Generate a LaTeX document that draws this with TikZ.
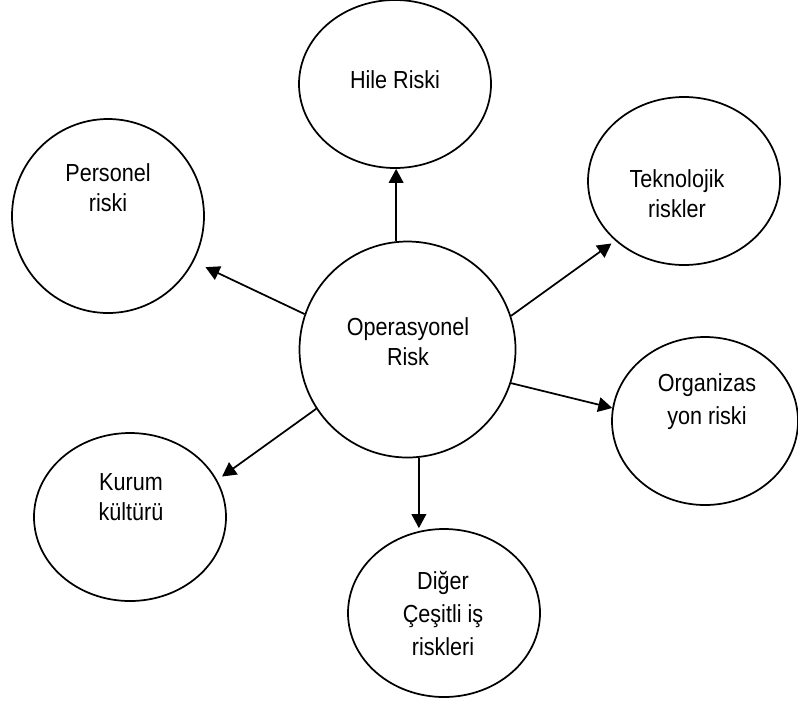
\documentclass[tikz,border=0pt]{standalone}
\usepackage{fontspec}
\setmainfont[FakeStretch=0.875]{Liberation Sans}
\usetikzlibrary{shapes.geometric,arrows.meta,calc}

\begin{document}
\begin{tikzpicture}[x=0.75pt,y=-0.75pt,
  oval/.style={draw, ellipse, line width=1.3pt, inner sep=0pt,
               minimum width=144pt, minimum height=126pt},
  lbl/.style={align=center, inner sep=0pt,
              font=\fontsize{18.5}{22.5}\selectfont},
  lblwide/.style={lbl, font=\fontsize{18.5}{24.75}\selectfont},
  arr/.style={line width=1.3pt, -{Triangle[length=10.5pt,width=11pt]}}]

\useasboundingbox (0,0) rectangle (798,704);

% central circle
\node[draw, circle, line width=1.3pt, inner sep=0pt, minimum size=162pt] (c) at (407.5,349.5) {};
\node[lbl] (tc) at (408,342) {Operasyonel\\Risk};

% surrounding risk categories
\node[oval] (hile) at (395,84) {};
\node[lbl] (thile) at (395,80) {Hile Riski};

\node[oval, minimum height=145.5pt] (per) at (108,216) {};
\node[lbl] (tper) at (108,187.5) {Personel\\riski};

\node[oval] (tek) at (684,181) {};
\node[lbl] (ttek) at (677,194) {Teknolojik\\riskler};

\node[oval, minimum width=139.5pt] (org) at (705,421) {};
\node[lblwide] (torg) at (707,401.5) {Organizas\\yon riski};

\node[oval] (kur) at (130,517) {};
\node[lbl] (tkur) at (131,497) {Kurum\\kültürü};

\node[oval] (dig) at (444,613) {};
\node[lblwide] (tdig) at (443,614) {Diğer\\Çeşitli iş\\riskleri};

% arrows from the centre outwards; some tips stop short of the oval
\draw[arr] (c.96.6) -- (c.96.6 |- hile.south);
\draw[arr] (c.161.2) -- ($(per.-28.4)!9.75pt!(c.161.2)$);
\draw[arr] (c.18.8) -- ($(tek.-139.3)!3.5pt!(c.18.8)$);
\draw[arr] (c.-18.3) -- (org.172.6);
\draw[arr] (c.213.3) -- ($(kur.23)!4.5pt!(c.213.3)$);
\draw[arr] (c.276.6) -- (c.276.6 |- dig.north);
\end{tikzpicture}
\end{document}
